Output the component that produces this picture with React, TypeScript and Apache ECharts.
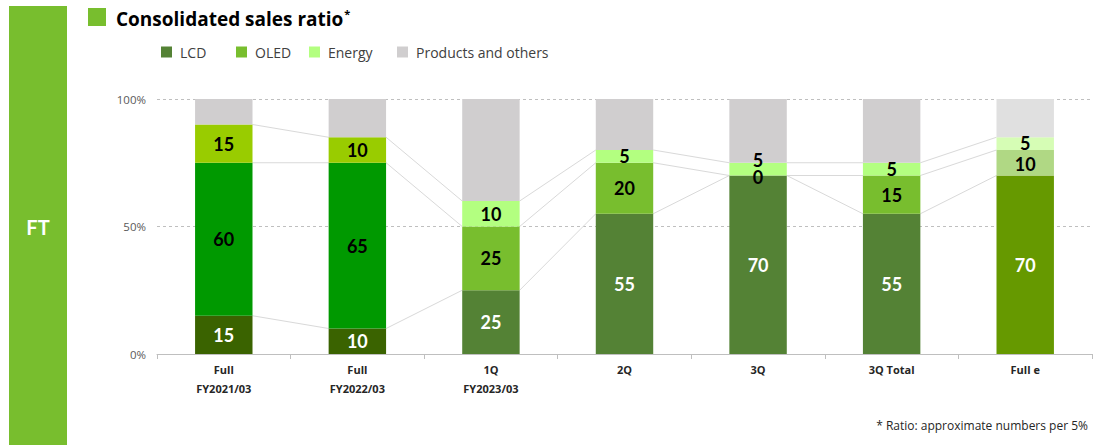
import React, { useEffect, useRef } from "react";
import * as echarts from "echarts";

const categories = ["Full\nFY2021/03", "Full\nFY2022/03", "1Q\nFY2023/03", "2Q", "3Q", "3Q Total", "Full e"];
const seriesNames = ["LCD", "OLED", "Energy", "Products and others"];
const lcd = [15, 10, 25, 55, 70, 55, 70];
const oled = [60, 65, 25, 20, 0, 15, 10];
const energy = [15, 10, 10, 5, 5, 5, 5];
const others = [10, 15, 40, 20, 25, 25, 15];

const FONT = "Lato, 'Open Sans', sans-serif";
const FONT2 = "'Open Sans', Lato, sans-serif";

const legendColors = ["#548235", "#78be2e", "#b3ff80", "#d0cecf"];
const lcdColors = ["#3a6300", "#3a6300", "#548235", "#548235", "#548235", "#548235", "#669900"];
const oledColors = ["#009900", "#009900", "#78be2e", "#78be2e", "#78be2e", "#78be2e", "#b0d884"];
const energyColors = ["#99cc00", "#99cc00", "#b3ff80", "#b3ff80", "#b3ff80", "#b3ff80", "#d6fdb5"];
const otherColors = ["#d0cecf", "#d0cecf", "#d0cecf", "#d0cecf", "#d0cecf", "#d0cecf", "#e0e0e0"];

const BAR_RATIO = 0.43;

export default function App() {
  const ref = useRef<HTMLDivElement>(null);
  useEffect(() => {
    document.body.style.margin = "0";
    const chart = echarts.init(ref.current!, null, { renderer: "svg" });

    const cum1 = lcd.map((v) => v);
    const cum2 = lcd.map((v, i) => v + oled[i]);
    const cum3 = lcd.map((v, i) => v + oled[i] + energy[i]);
    const connectors = categories.slice(0, -1).map((_, i) => [
      i, cum1[i], cum1[i + 1], cum2[i], cum2[i + 1], cum3[i], cum3[i + 1],
    ]);

    const labelBase = { show: true, position: "inside", fontFamily: FONT, fontWeight: "bold", fontSize: 18 };

    const mk = (vals: number[], colors: string[], offsets?: Record<number, number[]>) =>
      vals.map((v, i) => {
        const item: any = { value: v, itemStyle: { color: colors[i] } };
        if (offsets && offsets[i]) item.label = { offset: offsets[i] };
        return item;
      });

    const legendLeft = [161, 236, 309, 397];

    chart.setOption({
      animation: false,
      textStyle: { fontFamily: FONT },
      grid: { left: 157, right: 2, top: 99, bottom: 91, containLabel: false },
      legend: seriesNames.map((n, i) => ({
        data: [n],
        left: legendLeft[i],
        top: 45,
        padding: 0,
        icon: "rect",
        itemWidth: 11,
        itemHeight: 11,
        itemGap: 0,
        selectedMode: false,
        textStyle: { fontFamily: FONT2, fontSize: 14, color: "#404040", padding: [0, 0, 0, 3] },
      })),
      xAxis: {
        type: "category",
        data: categories,
        axisLine: { show: true, lineStyle: { color: "#bfbfbf", width: 1 } },
        axisTick: { show: true, length: 5, lineStyle: { color: "#bfbfbf" } },
        axisLabel: { fontFamily: FONT2, fontWeight: "bold", fontSize: 11, color: "#262626", lineHeight: 19, margin: 6 },
      },
      yAxis: {
        type: "value",
        min: 0,
        max: 100,
        interval: 50,
        axisLine: { show: false },
        axisTick: { show: false },
        axisLabel: { formatter: "{value}%", fontFamily: FONT2, fontSize: 11.5, color: "#595959", margin: 11 },
        splitLine: { lineStyle: { color: "#bfbfbf", type: [3, 3], width: 1 } },
      },
      series: [
        {
          name: "LCD", type: "bar", stack: "s", barWidth: BAR_RATIO * 100 + "%",
          itemStyle: { color: legendColors[0] },
          label: { ...labelBase, color: "#ffffff" },
          data: mk(lcd, lcdColors),
        },
        {
          name: "OLED", type: "bar", stack: "s", barWidth: BAR_RATIO * 100 + "%",
          itemStyle: { color: legendColors[1] },
          label: { ...labelBase, color: "#000000" },
          data: mk(oled, oledColors, { 4: [0, 1], 6: [0, 1] }),
        },
        {
          name: "Energy", type: "bar", stack: "s", barWidth: BAR_RATIO * 100 + "%",
          itemStyle: { color: legendColors[2] },
          label: { ...labelBase, color: "#000000" },
          data: mk(energy, energyColors, { 4: [0, -9], 6: [0, -1] }),
        },
        {
          name: "Products and others", type: "bar", stack: "s", barWidth: BAR_RATIO * 100 + "%",
          itemStyle: { color: legendColors[3] },
          label: { show: false },
          data: mk(others, otherColors),
        },
        {
          type: "custom",
          silent: true,
          z: 1,
          data: connectors,
          renderItem: (params: any, api: any) => {
            const i = api.value(0);
            const hw = (api.size([1, 0])[0] * BAR_RATIO) / 2;
            const xa = api.coord([i, 0])[0] + hw;
            const xb = api.coord([i + 1, 0])[0] - hw;
            const children = [1, 3, 5].map((k) => ({
              type: "line",
              shape: {
                x1: xa, y1: api.coord([i, api.value(k)])[1],
                x2: xb, y2: api.coord([i + 1, api.value(k + 1)])[1],
              },
              style: { stroke: "#d9d9d9", lineWidth: 1 },
            }));
            return { type: "group", children };
          },
        },
      ],
      graphic: [
        { type: "rect", shape: { x: 9, y: 6, width: 58, height: 445 }, style: { fill: "#78be2e" } },
        {
          type: "text", x: 38, y: 227,
          style: { text: "FT", fill: "#ffffff", font: `bold 20px ${FONT}`, textAlign: "center", textVerticalAlign: "middle" },
        },
        { type: "rect", shape: { x: 88, y: 8, width: 18, height: 18 }, style: { fill: "#78be2e" } },
        {
          type: "text", x: 116, y: 19,
          style: {
            text: "{a|Consolidated sales ratio}{b|*}",
            textVerticalAlign: "middle",
            rich: {
              a: { fontFamily: FONT2, fontWeight: "bold", fontSize: 19, color: "#000000" },
              b: { fontFamily: FONT2, fontWeight: "bold", fontSize: 11, color: "#000000", padding: [0, 0, 12, 1] },
            },
          },
        },
        {
          type: "text", x: 1088, y: 425,
          style: { text: "* Ratio: approximate numbers per 5%", fill: "#262626", font: `12px ${FONT2}`, textAlign: "right", textVerticalAlign: "middle" },
        },
      ],
    });
    return () => chart.dispose();
  }, []);
  return <div ref={ref} style={{ width: 1094, height: 445 }} />;
}
